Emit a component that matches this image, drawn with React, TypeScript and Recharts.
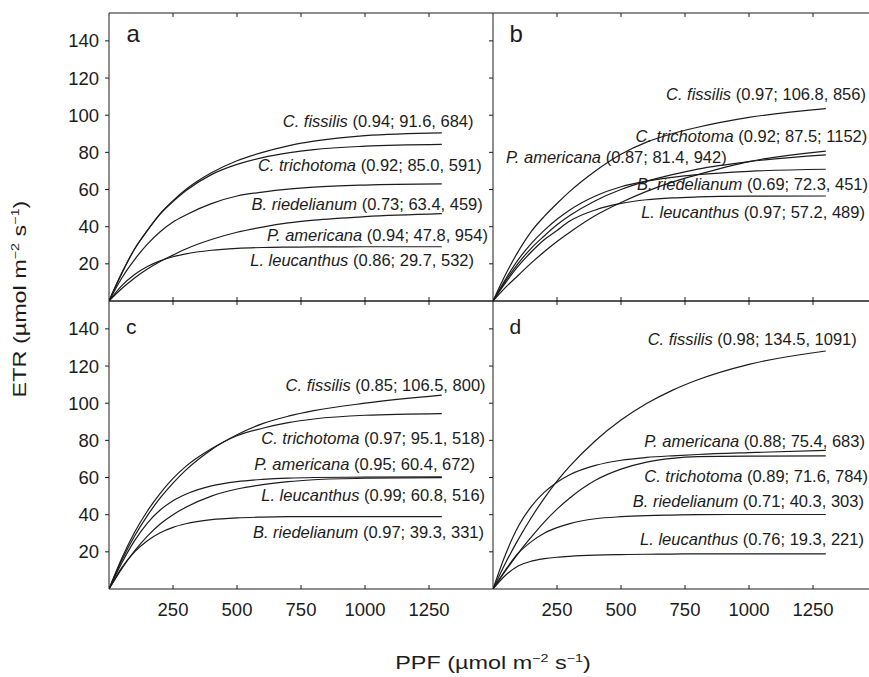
import { LineChart, Line, XAxis, YAxis, ReferenceDot } from 'recharts'

const FONT = '"Liberation Sans", Arial, Helvetica, sans-serif'
const INK = '#1c1c1c'

// PPF points where the fitted curves were read (µmol m-2 s-1)
const ppf = [0, 50, 100, 150, 200, 250, 300, 400, 500, 600, 700, 800, 1000, 1300]

// panel a
const aFissilis = [0, 15, 28, 38, 47, 54, 60, 69, 75.5, 80, 83.5, 86, 89, 90.5]
const aTrichotoma = [0, 15, 28, 38, 46.8, 53.5, 59.3, 68, 73.5, 77.2, 79.7, 81.5, 83.3, 84.3]
const aRiedelianum = [0, 12.4, 22.3, 30.6, 37.3, 42.5, 46.3, 52.4, 56.5, 58.6, 60.2, 61.3, 62.4, 63]
const aAmericana = [0, 6.7, 12.4, 17.2, 21.3, 24.7, 28, 33.1, 37, 39.8, 42, 43.5, 45.4, 47]
const aLeucanthus = [0, 8.3, 14.3, 18.6, 21.6, 23.8, 25.4, 27.3, 28.3, 28.8, 29, 29.1, 29.2, 29.2]

// panel b
const bFissilis = [0, 14.5, 27, 37.5, 45.5, 52.5, 59, 70, 79, 85.5, 90, 93.5, 98.8, 103.5]
const bTrichotoma = [0, 7.5, 14, 20.5, 26.5, 32, 37, 46, 53, 59, 64, 68, 75, 80.7]
const bAmericana = [0, 11, 20.5, 28.5, 35, 41, 46, 54, 60, 64.5, 68, 71, 75, 78.6]
const bRiedelianum = [0, 12, 22.5, 31, 38, 44, 49, 56.5, 61.5, 64.5, 66.5, 68, 69.8, 70.9]
const bLeucanthus = [0, 10, 19, 26.5, 33, 38, 43, 49, 52.5, 54.5, 55.5, 56, 56.4, 56.5]

// panel c
const cFissilis = [0, 15.5, 28.5, 39.5, 49, 57, 64, 75, 83, 89, 93, 96, 100, 104.3]
const cTrichotoma = [0, 16.5, 30.5, 42, 51.5, 59.5, 66, 75.5, 82.5, 86.5, 89.5, 91.5, 93.5, 94.4]
const cAmericana = [0, 14, 26, 35.5, 42.5, 47.5, 51, 55.5, 57.8, 59, 59.7, 60, 60.2, 60.3]
const cLeucanthus = [0, 11, 20.5, 28.5, 35, 40, 44, 50, 53.8, 56.2, 57.8, 58.8, 59.6, 59.9]
const cRiedelianum = [0, 11.5, 20, 26, 30.3, 33.2, 35.1, 37.3, 38.3, 38.7, 38.9, 39, 39, 39]

// panel d
const dFissilis = [0, 14.3, 27, 38.5, 48.8, 58, 66.1, 79.8, 90.9, 99.8, 106.9, 112.6, 120.9, 128.1]
const dAmericana = [0, 19, 34, 44.5, 52, 57.5, 61.5, 66.5, 69.3, 70.8, 71.7, 72.4, 73.4, 74.6]
const dTrichotoma = [0, 10, 19.5, 28, 36, 43, 49, 58.5, 64.5, 68.3, 70.3, 71.2, 71.5, 71.6]
const dRiedelianum = [0, 10.5, 19.5, 25.5, 30, 33, 35.2, 37.8, 38.9, 39.5, 39.8, 40, 40.1, 40.1]
const dLeucanthus = [0, 7.5, 12.5, 15, 16.3, 17.1, 17.6, 18.2, 18.5, 18.7, 18.8, 18.9, 18.9, 18.9]

const xTicks = [250, 500, 750, 1000, 1250]
const yTicks = [20, 40, 60, 80, 100, 120, 140]

// curve labels: species (r2; ETRmax, Ik)
const aNames = ['C. fissilis', 'C. trichotoma', 'B. riedelianum', 'P. americana', 'L. leucanthus']
const aStats = ['(0.94; 91.6, 684)', '(0.92; 85.0, 591)', '(0.73; 63.4, 459)', '(0.94; 47.8, 954)', '(0.86; 29.7, 532)']
const bNames = ['C. fissilis', 'C. trichotoma', 'P. americana', 'B. riedelianum', 'L. leucanthus']
const bStats = ['(0.97; 106.8, 856)', '(0.92; 87.5; 1152)', '(0.87; 81.4, 942)', '(0.69; 72.3, 451)', '(0.97; 57.2, 489)']
const cNames = ['C. fissilis', 'C. trichotoma', 'P. americana', 'L. leucanthus', 'B. riedelianum']
const cStats = ['(0.85; 106.5, 800)', '(0.97; 95.1, 518)', '(0.95; 60.4, 672)', '(0.99; 60.8, 516)', '(0.97; 39.3, 331)']
const dNames = ['C. fissilis', 'P. americana', 'C. trichotoma', 'B. riedelianum', 'L. leucanthus']
const dStats = ['(0.98; 134.5, 1091)', '(0.88; 75.4, 683)', '(0.89; 71.6, 784)', '(0.71; 40.3, 303)', '(0.76; 19.3, 221)']

// where each label ends (text end, baseline), in axis units [PPF, ETR]
const aLabelAt = [[1424, 93.4], [1456, 70], [1460, 49.2], [1480, 32.3], [1426, 18.6]]
const bLabelAt = [[1457, 108.2], [1462, 85.7], [913, 74.3], [1465, 59.7], [1453, 44.5]]
const cLabelAt = [[1471, 106.6], [1469, 78.3], [1430, 64], [1469, 47.2], [1465, 27.3]]
const dLabelAt = [[1421, 131.3], [1453, 76.6], [1465, 57.7], [1449, 44.3], [1449, 23.7]]

const PLOT_W = 384
const PLOT_H = 288

const panels = [
  { letter: 'a', left: 109, top: 13, row: 0, yLabels: true, series: [aFissilis, aTrichotoma, aRiedelianum, aAmericana, aLeucanthus], names: aNames, stats: aStats, labelAt: aLabelAt },
  { letter: 'b', left: 493, top: 13, row: 0, yLabels: false, series: [bFissilis, bTrichotoma, bAmericana, bRiedelianum, bLeucanthus], names: bNames, stats: bStats, labelAt: bLabelAt },
  { letter: 'c', left: 109, top: 301, row: 1, yLabels: true, series: [cFissilis, cTrichotoma, cAmericana, cLeucanthus, cRiedelianum], names: cNames, stats: cStats, labelAt: cLabelAt },
  { letter: 'd', left: 493, top: 301, row: 1, yLabels: false, series: [dFissilis, dAmericana, dTrichotoma, dRiedelianum, dLeucanthus], names: dNames, stats: dStats, labelAt: dLabelAt },
]

const NoTick = () => <g />

const XTickLabel = (props: any) => {
  const { x, y, payload } = props
  return (
    <text x={x} y={y + 27} textAnchor="middle" fontSize={18.5} fill={INK} fontFamily={FONT}>
      {payload.value}
    </text>
  )
}

function curveLabel(name: string, stats: string) {
  return (props: any) => {
    const vb = props.viewBox || {}
    return (
      <text x={vb.x} y={vb.y} textAnchor="end" fontSize={16.5} fill={INK} fontFamily={FONT} style={{ whiteSpace: 'pre' }}>
        <tspan fontStyle="italic">{name}</tspan>
        <tspan>{' ' + stats}</tspan>
      </text>
    )
  }
}

function Panel({ p }: { p: (typeof panels)[number] }) {
  const rows = ppf.map((x, i) => {
    const r: Record<string, number> = { ppf: x }
    p.series.forEach((s, j) => {
      r['s' + j] = s[i]
    })
    return r
  })
  const leftW = p.yLabels ? 60 : 5
  const bottomH = p.row === 1 ? 40 : 5
  const topH = 5

  return (
    <div style={{ position: 'absolute', left: p.left - leftW, top: p.top - topH }}>
      <LineChart
        width={leftW + PLOT_W}
        height={topH + PLOT_H + bottomH}
        data={rows}
        margin={{ top: 0, right: 0, bottom: 0, left: 0 }}
      >
        <XAxis
          xAxisId="top"
          orientation="top"
          type="number"
          dataKey="ppf"
          domain={[0, 1500]}
          allowDataOverflow
          ticks={xTicks}
          interval={0}
          height={topH}
          tickSize={p.row === 0 ? -4 : 4}
          tick={NoTick}
          stroke={INK}
        />
        <XAxis
          xAxisId="bottom"
          type="number"
          dataKey="ppf"
          domain={[0, 1500]}
          allowDataOverflow
          ticks={xTicks}
          interval={0}
          height={bottomH}
          tickSize={p.row === 0 ? 4 : -4}
          tickMargin={4}
          tick={p.row === 1 ? XTickLabel : NoTick}
          stroke={INK}
        />
        <YAxis
          type="number"
          domain={[0, 155]}
          allowDataOverflow
          ticks={yTicks}
          interval={0}
          width={leftW}
          tickSize={4}
          tickMargin={6}
          tick={p.yLabels ? { fontSize: 18.5, fill: INK, fontFamily: FONT } : NoTick}
          stroke={INK}
        />
        {p.series.map((_, j) => (
          <Line
            key={j}
            xAxisId="bottom"
            dataKey={'s' + j}
            type="monotone"
            stroke={INK}
            strokeWidth={1.2}
            dot={false}
            activeDot={false}
            isAnimationActive={false}
          />
        ))}
        {p.labelAt.map(([lx, ly], j) => (
          <ReferenceDot
            key={'l' + j}
            xAxisId="bottom"
            x={lx}
            y={ly}
            r={0}
            fill="none"
            stroke="none"
            ifOverflow="visible"
            label={curveLabel(p.names[j], p.stats[j])}
          />
        ))}
      </LineChart>
    </div>
  )
}

// panel letters: [x, baseline, size]
const letterAt: Record<string, number[]> = {
  a: [126.5, 42, 24],
  b: [509.5, 42, 24],
  c: [126, 334, 21],
  d: [509.5, 334, 21],
}

export default function App() {
  return (
    <div style={{ position: 'absolute', left: 0, top: 0, width: 869, height: 677, overflow: 'hidden', background: '#fff' }}>
      {panels.map((p) => (
        <Panel key={p.letter} p={p} />
      ))}
      <svg width={869} height={677} style={{ position: 'absolute', left: 0, top: 0, pointerEvents: 'none' }}>
        {panels.map((p) => {
          const [x, y, fs] = letterAt[p.letter]
          return (
            <text key={p.letter} x={x} y={y} fontSize={fs} fill={INK} fontFamily={FONT}>
              {p.letter}
            </text>
          )
        })}
        <text transform="translate(25.5,299) rotate(-90) scale(1.3,1)" textAnchor="middle" fontSize={18} fill={INK} fontFamily={FONT}>
          ETR (µmol m<tspan dy={-7} fontSize={11}>−2</tspan>
          <tspan dy={7}> s</tspan>
          <tspan dy={-7} fontSize={11}>−1</tspan>
          <tspan dy={7}>)</tspan>
        </text>
        <text transform="translate(493,669) scale(1.3,1)" textAnchor="middle" fontSize={18} fill={INK} fontFamily={FONT}>
          PPF (µmol m<tspan dy={-7} fontSize={11}>−2</tspan>
          <tspan dy={7}> s</tspan>
          <tspan dy={-7} fontSize={11}>−1</tspan>
          <tspan dy={7}>)</tspan>
        </text>
      </svg>
    </div>
  )
}
